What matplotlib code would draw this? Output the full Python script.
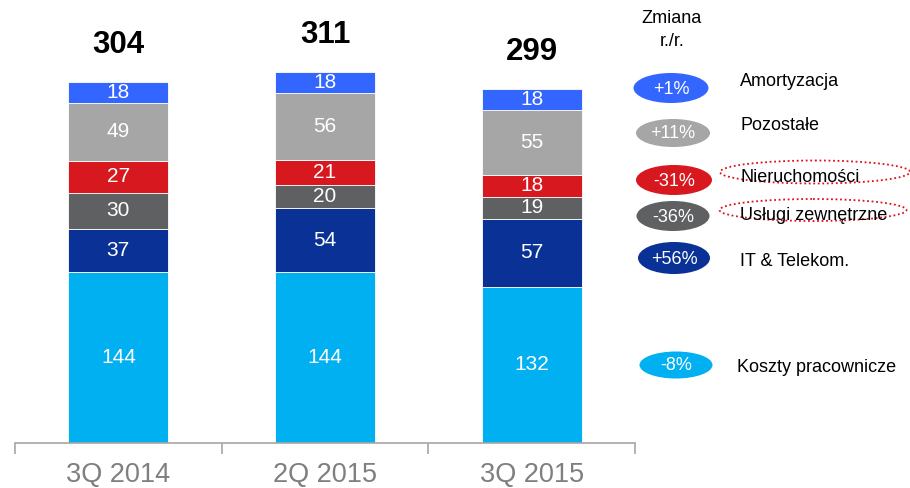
import matplotlib
matplotlib.use("Agg")
import matplotlib.pyplot as plt
from matplotlib.patches import Ellipse

plt.rcParams['font.family'] = ['Liberation Sans', 'DejaVu Sans']

categories = ["3Q 2014", "2Q 2015", "3Q 2015"]
series_names = ["Koszty pracownicze", "IT & Telekom.", "Usługi zewnętrzne",
                "Nieruchomości", "Pozostałe", "Amortyzacja"]
koszty = [144, 144, 132]
it_tel = [37, 54, 57]
uslugi = [30, 20, 19]
nieruch = [27, 21, 18]
pozostale = [49, 56, 55]
amort = [18, 18, 18]
totals = [304, 311, 299]
changes = ["-8%", "+56%", "-36%", "-31%", "+11%", "+1%"]

series = [koszty, it_tel, uslugi, nieruch, pozostale, amort]
colors = ["#00B0F0", "#0A3296", "#5F6062", "#D7191F", "#A6A6A6", "#3366FF"]

W, H = 910, 488
fig = plt.figure(figsize=(W / 100, H / 100), dpi=100)
ax = fig.add_axes([15 / W, (H - 443) / H, (635 - 15) / W, 443 / H])
ax.set_xlim(-0.5, 2.5)
ax.set_ylim(0, 443 / 1.185)

x = list(range(len(categories)))
bottom = [0] * len(categories)
for vals, col in zip(series, colors):
    ax.bar(x, vals, bottom=bottom, width=0.485, color=col,
           edgecolor="white", linewidth=0.6)
    for i, v in enumerate(vals):
        ax.text(i, bottom[i] + v / 2, str(v), ha="center", va="center",
                color="white", fontsize=15)
    bottom = [b + v for b, v in zip(bottom, vals)]

for i, t in enumerate(totals):
    ax.text(i, bottom[i] + 31, str(t), ha="center", va="center",
            fontsize=22.5, fontweight="bold", color="black")

for s in ["top", "right", "left"]:
    ax.spines[s].set_visible(False)
ax.spines["bottom"].set_color("#A6A6A6")
ax.spines["bottom"].set_linewidth(1.2)
ax.set_yticks([])
ax.set_xticks(x)
ax.set_xticklabels(categories, fontsize=19.5, color="#7F7F7F")
ax.tick_params(axis="x", which="major", length=0, pad=14)
ax.set_xticks([-0.5, 0.5, 1.5, 2.5], minor=True)
ax.tick_params(axis="x", which="minor", length=8, width=1.2, color="#A6A6A6")

# Legend overlay (pixel coordinates)
lg = fig.add_axes([0, 0, 1, 1])
lg.set_xlim(0, W)
lg.set_ylim(H, 0)
lg.axis("off")
lg.patch.set_alpha(0)

lg.text(672, 30, "Zmiana\nr./r.", ha="center", va="center", fontsize=13,
        linespacing=1.45)

ell_y = [365, 258, 216, 180, 133, 88]
lab_y = [367, 262, 215, 178, 126, 81]
ell_x = [676, 674, 673, 674, 673, 671]
ell_w = [73, 72, 73, 76, 74, 75]
ell_h = [27, 32, 30, 30, 28, 30]
for k in range(len(series_names)):
    lg.add_patch(Ellipse((ell_x[k], ell_y[k]), ell_w[k], ell_h[k],
                         facecolor=colors[k], edgecolor="none"))
    lg.text(ell_x[k], ell_y[k] + 1, changes[k], ha="center", va="center",
            color="white", fontsize=13)
    lg.text(737 if k == 0 else 740, lab_y[k], series_names[k], ha="left",
            va="center", fontsize=13, color="black")

for cx, cy, ew, eh in [(815, 172, 190, 23), (813, 210, 187, 22)]:
    lg.add_patch(Ellipse((cx, cy), ew, eh, facecolor="none",
                         edgecolor="#E0101A", linestyle=(0, (1, 1.5)),
                         linewidth=1.3))

fig.savefig("out.png", dpi=100)
